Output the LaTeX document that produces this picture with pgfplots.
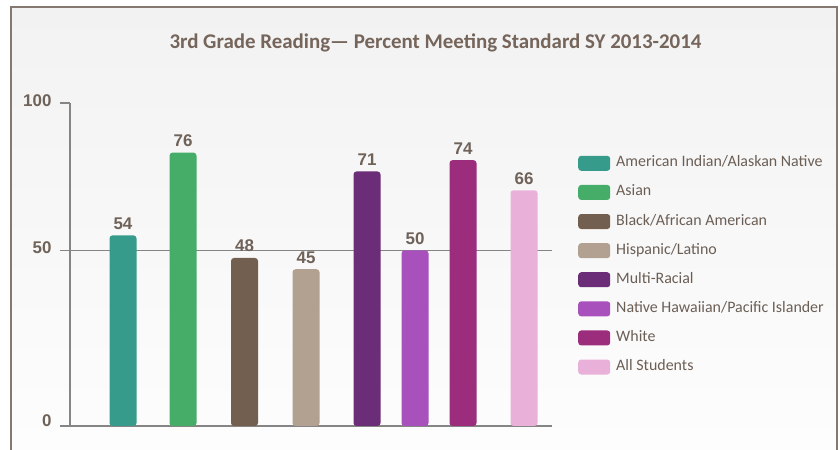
\documentclass[border=0pt]{standalone}
\usepackage{fontspec}
\setmainfont{Carlito}
\newfontfamily\arialf{Liberation Sans}
\usepackage{pgfplots}
\pgfplotsset{compat=1.18}
\definecolor{cAI}{HTML}{379B8C}
\definecolor{cAS}{HTML}{45AD68}
\definecolor{cBL}{HTML}{725F50}
\definecolor{cHI}{HTML}{B2A191}
\definecolor{cMR}{HTML}{6B2D78}
\definecolor{cNH}{HTML}{A851BC}
\definecolor{cWH}{HTML}{9C2D7C}
\definecolor{cALL}{HTML}{E9B1D9}
\definecolor{bgtop}{HTML}{F2F2F2}
\definecolor{bgbot}{HTML}{FDFDFD}
\definecolor{framec}{HTML}{857870}
\definecolor{axisc}{HTML}{858585}
\definecolor{labc}{HTML}{6F6259}
\definecolor{legc}{HTML}{6B5E55}
\definecolor{titlec}{HTML}{75655A}
\begin{document}
\begin{tikzpicture}[x=1bp,y=1bp]
\path[use as bounding box] (0,0) rectangle (840,450);
\shade[top color=bgtop, bottom color=bgbot] (11,0) rectangle (837,443);
\draw[framec, line width=2bp] (11,0) -- (11,443) -- (837,443) -- (837,0);
\node[font=\fontsize{21}{24}\selectfont\bfseries, text=titlec] at (435.5,407) {3rd Grade Reading— Percent Meeting Standard SY 2013-2014};
\begin{axis}[
  at={(70bp,24bp)}, anchor=south west, scale only axis,
  width=482bp, height=323bp,
  xmin=70, xmax=552, ymin=3.33, ymax=89.2,
  axis x line*=bottom, axis y line*=left,
  axis line style={color=axisc, line width=1.3bp},
  xtick=\empty,
  ytick={3.33,50,89.2}, yticklabels={\raisebox{5bp}{0},50,100},
  tick align=outside, major tick length=10bp,
  tick style={color=axisc, line width=1.3bp},
  yticklabel style={font=\arialf\bfseries\fontsize{17}{17}\selectfont, text=labc, xshift=-5bp, yshift=2.5bp},
  extra y ticks={50}, extra y tick labels={},
  extra y tick style={grid=major, major grid style={color=axisc, line width=1.3bp}},
  ybar, bar width=27bp,
  nodes near coords,
  every node near coord/.append style={font=\arialf\bfseries\fontsize{17}{17}\selectfont, text=labc, yshift=2.5bp},
  /pgf/number format/assume math mode=true,
  clip=true, clip mode=individual,
  legend style={at={(1.054,0.837)}, anchor=north west, draw=none, fill=none,
    font=\fontsize{16}{18}\selectfont, text=legc, cells={anchor=west},
    row sep=14.1bp, column sep=6bp, inner sep=0pt,
    nodes={inner sep=0pt, text height=10bp, text depth=3bp}},
  legend image code/.code={\fill[#1, rounded corners=3bp] (0bp,-7.5bp) rectangle (32bp,7.5bp);},
]
\addplot[fill=cAI, draw=none, bar shift=0pt, rounded corners=3bp] coordinates {(123,54)};
\addlegendentry{American Indian/Alaskan Native}
\addplot[fill=cAS, draw=none, bar shift=0pt, rounded corners=3bp] coordinates {(183,76)};
\addlegendentry{Asian}
\addplot[fill=cBL, draw=none, bar shift=0pt, rounded corners=3bp] coordinates {(244.5,48)};
\addlegendentry{Black/African American}
\addplot[fill=cHI, draw=none, bar shift=0pt, rounded corners=3bp] coordinates {(306,45)};
\addlegendentry{Hispanic/Latino}
\addplot[fill=cMR, draw=none, bar shift=0pt, rounded corners=3bp] coordinates {(367,71)};
\addlegendentry{Multi-Racial}
\addplot[fill=cNH, draw=none, bar shift=0pt, rounded corners=3bp] coordinates {(415,50)};
\addlegendentry{Native Hawaiian/Pacific Islander}
\addplot[fill=cWH, draw=none, bar shift=0pt, rounded corners=3bp] coordinates {(463,74)};
\addlegendentry{White}
\addplot[fill=cALL, draw=none, bar shift=0pt, rounded corners=3bp] coordinates {(524,66)};
\addlegendentry{All Students}
\end{axis}
\end{tikzpicture}
\end{document}
